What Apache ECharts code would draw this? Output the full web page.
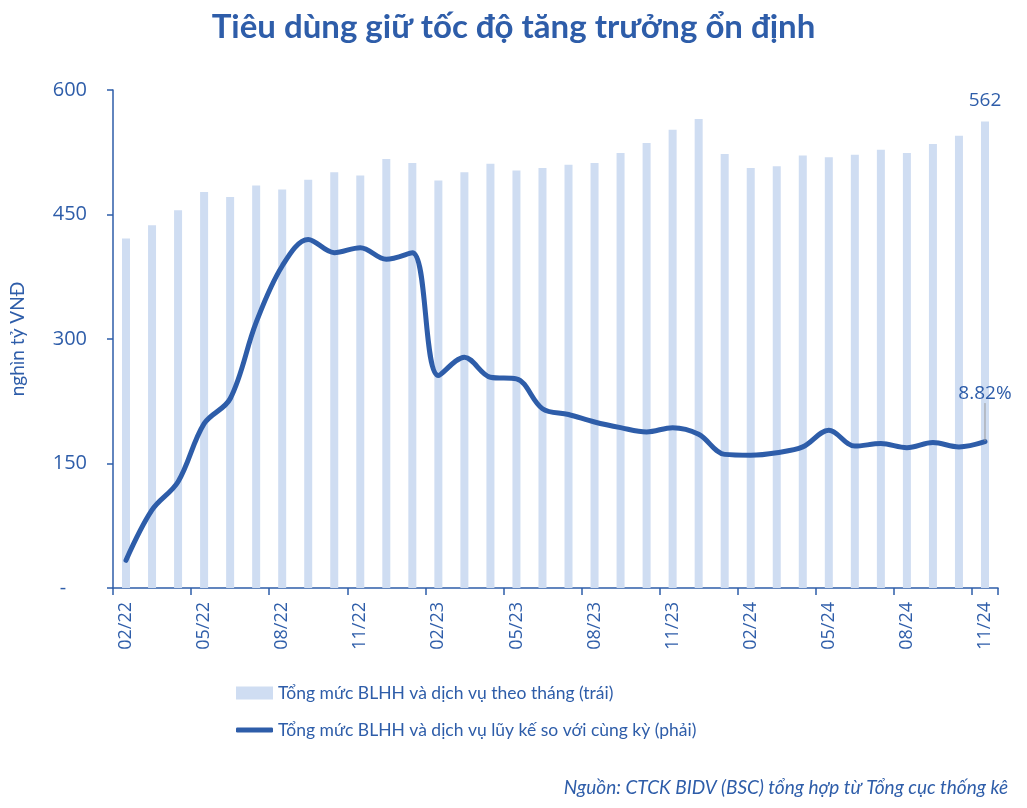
<!DOCTYPE html>
<html>
<head>
<meta charset="utf-8">
<script src="https://cdn.jsdelivr.net/npm/echarts@6/dist/echarts.min.js"></script>
<style>
html,body{margin:0;padding:0;background:#fff;}
#chart{width:1027px;height:808px;}
</style>
</head>
<body>
<div id="chart"></div>
<script>
const categories = ['02/22','03/22','04/22','05/22','06/22','07/22','08/22','09/22','10/22','11/22','12/22',
  '01/23','02/23','03/23','04/23','05/23','06/23','07/23','08/23','09/23','10/23','11/23','12/23',
  '01/24','02/24','03/24','04/24','05/24','06/24','07/24','08/24','09/24','10/24','11/24'];
const monthlySales = [421,437,455,477,471,485,480,492,501,497,517,
  512,491,501,511,503,506,510,512,524,536,552,565,
  523,506,508,521,519,522,528,524,535,545,562];
const ytdGrowth = [1.67,4.7,6.4,9.9,11.4,16.0,19.4,21.0,20.2,20.5,19.8,
  20.2,12.8,13.9,12.7,12.6,10.8,10.45,10.0,9.66,9.4,9.66,9.26,
  8.05,8.0,8.15,8.5,9.5,8.55,8.7,8.45,8.76,8.5,8.82];
const leftTicks = [0,150,300,450,600];
const barName = 'Tổng mức BLHH và dịch vụ theo tháng (trái)';
const lineName = 'Tổng mức BLHH và dịch vụ lũy kế so với cùng kỳ (phải)';

const BLUE = '#2E5DA9';
const BAR = '#CFDDF2';
const FONT = 'Lato, "Open Sans", sans-serif';
const NUMFONT = '"Open Sans", Lato, sans-serif';

const last = categories.length - 1;
const barData = monthlySales.map((v, i) => i === last ? {
  value: v,
  label: {show: true, position: 'top', distance: 11, color: BLUE, fontSize: 19, fontFamily: NUMFONT, formatter: '{c}'}
} : v);
const lineData = ytdGrowth.map((v, i) => i === last ? {
  value: v,
  label: {show: true, position: 'top', distance: 5, color: BLUE, fontSize: 19, fontFamily: NUMFONT,
    formatter: p => p.value.toFixed(2) + '%'},
  labelLine: {show: true, lineStyle: {color: '#9a9a9a', width: 1}}
} : v);

const chart = echarts.init(document.getElementById('chart'), null, {renderer: 'canvas'});
chart.setOption({
  animation: false,
  backgroundColor: '#fff',
  title: [{
    text: 'Tiêu dùng giữ tốc độ tăng trưởng ổn định',
    left: 'center', top: 6,
    textStyle: {color: BLUE, fontSize: 33, fontWeight: 'bold', fontFamily: FONT}
  }, {
    text: 'Nguồn: CTCK BIDV (BSC) tổng hợp từ Tổng cục thống kê',
    right: 14, top: 773,
    textStyle: {color: BLUE, fontSize: 19, fontStyle: 'italic', fontWeight: 'normal', fontFamily: FONT}
  }],
  legend: [{
    data: [{name: barName, icon: 'rect'}],
    left: 231, top: 679, itemWidth: 37, itemHeight: 13,
    textStyle: {color: BLUE, fontSize: 17.5, fontFamily: FONT}
  }, {
    data: [{name: lineName, icon: 'roundRect'}],
    left: 231, top: 716, itemWidth: 37, itemHeight: 5,
    itemStyle: {color: BLUE},
    textStyle: {color: BLUE, fontSize: 17.5, fontFamily: FONT}
  }],
  grid: {left: 106, right: 29, top: 90, bottom: 220, containLabel: false},
  xAxis: {
    type: 'category',
    data: categories,
    boundaryGap: true,
    axisLine: {lineStyle: {color: BLUE, width: 1.5}},
    axisTick: {show: true, interval: 2, length: 7, lineStyle: {color: BLUE, width: 1.5}},
    axisLabel: {interval: 2, rotate: 90, margin: 14, color: BLUE, fontSize: 18, fontFamily: NUMFONT}
  },
  yAxis: [{
    type: 'value', min: 0, max: 600, interval: 150,
    name: 'nghìn tỷ VNĐ', nameLocation: 'middle', nameRotate: 90, nameGap: 86,
    nameTextStyle: {color: BLUE, fontSize: 19, fontFamily: FONT},
    axisLine: {show: true, lineStyle: {color: BLUE, width: 1.5}},
    axisTick: {show: true, length: 6, lineStyle: {color: BLUE, width: 1.5}},
    splitLine: {show: false},
    axisLabel: {color: BLUE, fontSize: 20, fontFamily: NUMFONT, margin: 26,
      formatter: v => leftTicks.includes(v) ? (v === 0 ? '-    ' : String(v)) : ''}
  }, {
    type: 'value', min: 0, max: 30, show: false, splitLine: {show: false}
  }],
  series: [{
    name: barName,
    type: 'bar',
    yAxisIndex: 0,
    data: barData,
    barWidth: 8,
    itemStyle: {color: BAR},
    z: 1
  }, {
    name: lineName,
    type: 'line',
    yAxisIndex: 1,
    data: lineData,
    smooth: 0.35,
    symbol: 'circle', symbolSize: 1, showSymbol: true,
    itemStyle: {color: BLUE},
    lineStyle: {color: BLUE, width: 5, cap: 'round', join: 'round'},
    labelLayout: {dy: -33},
    z: 3
  }]
});
</script>
</body>
</html>
